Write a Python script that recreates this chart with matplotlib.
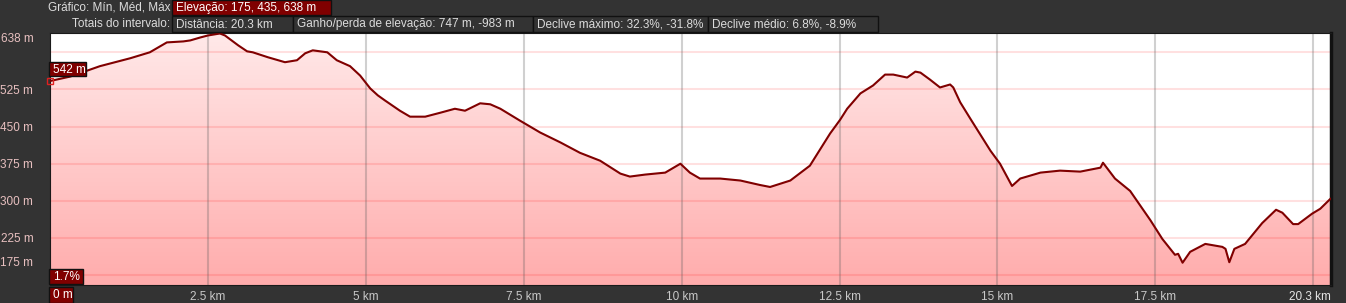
import numpy as np
import matplotlib
matplotlib.use('Agg')
import matplotlib.pyplot as plt
from matplotlib.patches import Rectangle
from matplotlib.transforms import blended_transform_factory

# profil d'elevation (km, m)
dist_km = [0.00, 0.32, 0.79, 1.27, 1.58, 1.85, 2.11, 2.22, 2.38, 2.50, 2.69, 2.77, 2.98, 3.12,
           3.21, 3.45, 3.72, 3.91, 4.04, 4.16, 4.39, 4.54, 4.75, 4.91, 5.07, 5.19, 5.30, 5.54,
           5.70, 5.94, 6.18, 6.41, 6.57, 6.81, 6.97, 7.13, 7.44, 7.76, 8.08, 8.39, 8.71, 9.03,
           9.18, 9.42, 9.74, 9.98, 10.13, 10.29, 10.61, 10.93, 11.24, 11.40, 11.72, 12.03, 12.35,
           12.51, 12.62, 12.83, 13.03, 13.22, 13.35, 13.57, 13.70, 13.78, 13.93, 14.09, 14.25,
           14.30, 14.41, 14.57, 14.89, 15.04, 15.23, 15.36, 15.68, 15.99, 16.31, 16.63, 16.67,
           16.86, 17.10, 17.42, 17.61, 17.81, 17.86, 17.93, 18.05, 18.29, 18.56, 18.61, 18.67,
           18.75, 18.92, 19.19, 19.41, 19.51, 19.68, 19.76, 19.98, 20.11, 20.27]
elev_m = [542, 551, 572, 588, 600, 620, 622, 624, 630, 634, 638, 634, 614, 602,
          600, 590, 580, 584, 598, 604, 600, 584, 572, 553, 527, 513, 503, 482,
          470, 470, 478, 486, 482, 497, 495, 486, 462, 438, 418, 397, 381, 355,
          349, 353, 357, 375, 357, 345, 345, 341, 332, 328, 341, 371, 436,
          464, 486, 517, 533, 555, 555, 549, 561, 559, 545, 529, 535,
          529, 499, 466, 401, 375, 330, 345, 357, 361, 359, 367, 377,
          345, 320, 261, 223, 191, 193, 175, 197, 213, 207, 203, 176,
          203, 213, 255, 282, 276, 253, 253, 274, 284, 304]

y_ticks = [225, 300, 375, 450, 525]
y_grid = [150, 225, 300, 375, 450, 525, 600]
x_ticks = [2.5, 5, 7.5, 10, 12.5, 15, 17.5]
x_tick_labels = ['2.5 km', '5 km', '7.5 km', '10 km', '12.5 km', '15 km', '17.5 km']
x_grid = [2.5, 5, 7.5, 10, 12.5, 15, 17.5, 20]
total_km = 20.3

header_row1 = [('Elevação: 175, 435, 638 m', 172, 331)]
header_row2 = [('Distância: 20.3 km', 172, 293),
               ('Ganho/perda de elevação: 747 m, -983 m', 293, 533),
               ('Declive máximo: 32.3%, -31.8%', 533, 708),
               ('Declive médio: 6.8%, -8.9%', 708, 878)]

W, H = 1346, 303
BG = '#333333'
DARKRED = '#800000'
FS = 8.5
plt.rcParams['font.family'] = ['Liberation Sans', 'DejaVu Sans']

fig = plt.figure(figsize=(W / 100, H / 100), dpi=100, facecolor=BG)
ax = fig.add_axes([50 / W, (H - 285) / H, 1281 / W, 252 / H])
ax.set_facecolor('white')
ymin, ymax = 130, 639
xmax = 20.28
ax.set_xlim(0, xmax)
ax.set_ylim(ymin, ymax)

# remplissage en degrade sous la courbe
grad = np.linspace(0, 1, 256).reshape(-1, 1)
top_col = np.array([255, 233, 233]) / 255
bot_col = np.array([255, 172, 172]) / 255
img = top_col + (bot_col - top_col) * grad
img = np.repeat(img[:, None, :], 2, axis=1).reshape(256, 2, 3)
poly = ax.fill_between(dist_km, elev_m, ymin, color='none', lw=0)
im = ax.imshow(img, extent=[0, xmax, ymin, ymax], aspect='auto', origin='upper', zorder=1)
im.set_clip_path(poly.get_paths()[0], transform=ax.transData)

for g in y_grid:
    ax.axhline(g, color=(1, 0, 0), alpha=0.12, lw=1.5, zorder=2)
for g in x_grid:
    ax.axvline(g, color=(0.35, 0.35, 0.35), alpha=0.28, lw=1.5, zorder=2)

ax.plot(dist_km, elev_m, color=DARKRED, lw=1.5, zorder=3)
ax.plot([0], [elev_m[0]], marker='s', mfc='none', mec='#e02020', ms=5, mew=1, zorder=4, clip_on=False)

for s in ['left', 'top', 'bottom']:
    ax.spines[s].set_color('#1a1a1a')
ax.spines['right'].set_color('#111111')
ax.spines['right'].set_linewidth(2.5)

ax.set_xticks(x_ticks)
ax.set_xticklabels(x_tick_labels)
ax.set_yticks(y_ticks)
ax.set_yticklabels([f'{v} m' for v in y_ticks])
ax.tick_params(axis='x', length=0, pad=4, colors='#c8c8c8', labelsize=FS)
ax.tick_params(axis='y', length=0, pad=12, colors='#e8c0c0', labelsize=FS)

tr = blended_transform_factory(ax.transAxes, ax.transData)
ax.text(-0.013, 175, '175 m', transform=tr, ha='right', va='center', fontsize=FS, color='#e8c0c0')
ax.text(-0.013, 1.0, '638 m', transform=ax.transAxes, ha='right', va='top', fontsize=FS, color='#e8c0c0')
ax.text(1.0, -0.025, '%.1f km' % total_km, transform=ax.transAxes, ha='right', va='top',
        fontsize=FS, color='#e6e6e6')


def px(x, y):
    return x / W, 1 - y / H


def box(x0, x1, y0, y1, face, txt):
    fig.add_artist(Rectangle(px(x0, y1), (x1 - x0) / W, (y1 - y0) / H, transform=fig.transFigure,
                             facecolor=face, edgecolor='#111111', lw=1, zorder=5))
    fig.text(*px(x0 + 4, (y0 + y1) / 2 + 0.5), txt, ha='left', va='center', fontsize=FS,
             color='white' if face == DARKRED else '#dcdcdc', zorder=6)


# etiquettes sur le graphique
box(49, 86, 62, 76, DARKRED, '542 m')
box(49, 83, 269, 284, DARKRED, '1.7%')
box(49, 73, 287, 303, DARKRED, '0 m')

# en-tete
fig.text(*px(170, 8), 'Gráfico: Mín, Méd, Máx', ha='right', va='center', fontsize=FS, color='#dcdcdc')
fig.text(*px(170, 24), 'Totais do intervalo:', ha='right', va='center', fontsize=FS, color='#dcdcdc')
for t, a, b in header_row1:
    box(a, b, 0, 15, DARKRED, t)
for t, a, b in header_row2:
    box(a, b, 16, 32, BG, t)

plt.savefig('out.png', dpi=100, facecolor=BG)
